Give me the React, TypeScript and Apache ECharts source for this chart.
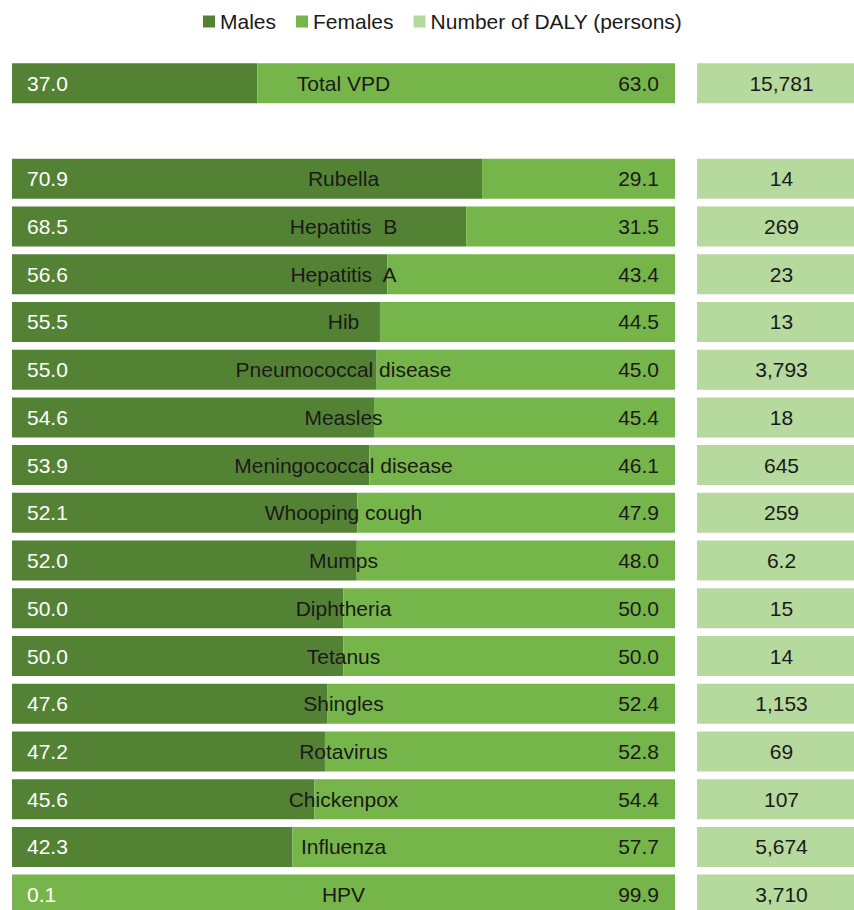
import React, { useEffect, useRef } from "react";
import * as echarts from "echarts";

const categories = [
  "Total VPD", "", "Rubella", "Hepatitis  B", "Hepatitis  A", "Hib",
  "Pneumococcal disease", "Measles", "Meningococcal disease", "Whooping cough",
  "Mumps", "Diphtheria", "Tetanus", "Shingles", "Rotavirus", "Chickenpox",
  "Influenza", "HPV",
];
const males: (number | string)[] = [
  37.0, "-", 70.9, 68.5, 56.6, 55.5, 55.0, 54.6, 53.9, 52.1, 52.0, 50.0, 50.0, 47.6, 47.2, 45.6, 42.3, 0.1,
];
const females: (number | string)[] = [
  63.0, "-", 29.1, 31.5, 43.4, 44.5, 45.0, 45.4, 46.1, 47.9, 48.0, 50.0, 50.0, 52.4, 52.8, 54.4, 57.7, 99.9,
];
const dalyLabels = [
  "15,781", "", "14", "269", "23", "13", "3,793", "18", "645", "259", "6.2", "15", "14", "1,153", "69", "107", "5,674", "3,710",
];

const C_MALE = "#548235";
const C_FEMALE = "#76b54a";
const C_DALY = "#b6d99d";
const FONT = "Liberation Sans, Arial, sans-serif";
const FS = 21;

export default function App() {
  const ref = useRef<HTMLDivElement>(null);
  useEffect(() => {
    document.body.style.margin = "0";
    document.body.style.overflow = "hidden";
    const chart = echarts.init(ref.current!, null, { renderer: "svg" });
    const top = 59.5;
    const height = 47.72 * categories.length;
    const yAxisBase = {
      type: "category" as const,
      data: categories,
      inverse: true,
      axisLine: { show: false },
      axisTick: { show: false },
      axisLabel: { show: false },
      splitLine: { show: false },
    };
    const xBase = {
      type: "value" as const,
      axisLine: { show: false },
      axisTick: { show: false },
      axisLabel: { show: false },
      splitLine: { show: false },
    };
    chart.setOption({
      animation: false,
      textStyle: { fontFamily: FONT },
      legend: {
        data: ["Males", "Females", "Number of DALY (persons)"],
        left: 198,
        top: 6,
        icon: "rect",
        itemWidth: 12,
        itemHeight: 12,
        itemGap: 20,
        textStyle: { fontSize: FS, color: "#1a1a1a", fontFamily: FONT },
      },
      grid: [
        { left: 12, width: 663, top, height },
        { left: 697, width: 157, top, height },
      ],
      xAxis: [
        { ...xBase, gridIndex: 0, min: 0, max: 100 },
        { ...xBase, gridIndex: 1, min: 0, max: 1 },
      ],
      yAxis: [
        { ...yAxisBase, gridIndex: 0 },
        { ...yAxisBase, gridIndex: 1 },
      ],
      series: [
        {
          name: "Males",
          type: "bar",
          stack: "s",
          xAxisIndex: 0,
          yAxisIndex: 0,
          barWidth: 40,
          data: males,
          itemStyle: { color: C_MALE },
          label: {
            show: true,
            position: "insideLeft",
            distance: 15,
            color: "#ffffff",
            fontSize: FS,
            fontFamily: FONT,
            formatter: (p: any) => Number(p.value).toFixed(1),
          },
        },
        {
          name: "Females",
          type: "bar",
          stack: "s",
          xAxisIndex: 0,
          yAxisIndex: 0,
          barWidth: 40,
          data: females,
          itemStyle: { color: C_FEMALE },
          label: {
            show: true,
            position: "insideRight",
            distance: 16,
            color: "#1a1a1a",
            fontSize: FS,
            fontFamily: FONT,
            formatter: (p: any) => Number(p.value).toFixed(1),
          },
        },
        {
          name: "names",
          type: "bar",
          xAxisIndex: 0,
          yAxisIndex: 0,
          barWidth: 40,
          barGap: "-100%",
          silent: true,
          data: categories.map((c) => (c ? 100 : "-")),
          itemStyle: { color: "rgba(0,0,0,0)" },
          label: {
            show: true,
            position: "inside",
            color: "#1a1a1a",
            fontSize: FS,
            fontFamily: FONT,
            formatter: (p: any) => categories[p.dataIndex],
          },
        },
        {
          name: "Number of DALY (persons)",
          type: "bar",
          xAxisIndex: 1,
          yAxisIndex: 1,
          barWidth: 40,
          data: dalyLabels.map((d) => (d ? 1 : "-")),
          itemStyle: { color: C_DALY },
          label: {
            show: true,
            position: "inside",
            offset: [6, 0],
            color: "#1a1a1a",
            fontSize: FS,
            fontFamily: FONT,
            formatter: (p: any) => dalyLabels[p.dataIndex],
          },
        },
      ],
    });
    return () => chart.dispose();
  }, []);
  return (
    <div style={{ width: 854, height: 910, overflow: "hidden", position: "relative" }}>
      <div ref={ref} style={{ width: 854, height: 940 }} />
    </div>
  );
}
